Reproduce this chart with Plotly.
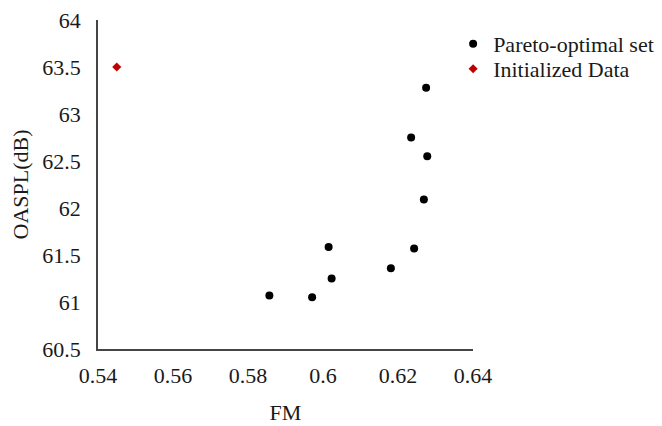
import plotly.graph_objects as go

# Pareto-optimal designs (figure of merit vs. overall sound pressure level)
pareto_fm = [0.6275, 0.6235, 0.6278, 0.6269, 0.6243, 0.6181, 0.6015, 0.6023, 0.5857, 0.5971]
pareto_oaspl = [63.28, 62.75, 62.55, 62.09, 61.57, 61.36, 61.585, 61.25, 61.07, 61.05]

# Baseline design
init_fm = [0.545]
init_oaspl = [63.5]

x_ticks = [0.54, 0.56, 0.58, 0.6, 0.62, 0.64]
x_tick_text = ["0.54", "0.56", "0.58", "0.6", "0.62", "0.64"]
y_ticks = [60.5, 61, 61.5, 62, 62.5, 63, 63.5, 64]
y_tick_text = ["60.5", "61", "61.5", "62", "62.5", "63", "63.5", "64"]

font_family = "Liberation Serif, Times New Roman, serif"
text_color = "#1a1a1a"
axis_color = "#454545"

fig = go.Figure()
fig.add_trace(go.Scatter(
    x=pareto_fm, y=pareto_oaspl, mode="markers", name="Pareto-optimal set",
    marker=dict(symbol="circle", size=8, color="black"),
    legend="legend",
))
fig.add_trace(go.Scatter(
    x=init_fm, y=init_oaspl, mode="markers", name="Initialized Data",
    marker=dict(symbol="diamond", size=7, color="#C00000"),
    legend="legend2",
))

legend_style = dict(xanchor="left", yanchor="middle",
                    font=dict(size=22, color=text_color),
                    bgcolor="rgba(0,0,0,0)", itemsizing="trace")

fig.update_layout(
    width=662, height=426,
    margin=dict(l=98, r=189, t=20, b=77, autoexpand=False),
    paper_bgcolor="white", plot_bgcolor="white",
    font=dict(family=font_family, size=22, color=text_color),
    showlegend=True,
    legend=dict(x=0.947, y=0.927, **legend_style),
    legend2=dict(x=0.947, y=0.851, **legend_style),
)
fig.update_xaxes(
    range=[0.54, 0.64], tickvals=x_ticks, ticktext=x_tick_text,
    showgrid=False, zeroline=False, showline=True, linecolor=axis_color, linewidth=1.6,
    ticks="", ticklen=0, ticklabelstandoff=6, automargin=False,
    title=dict(text="FM", font=dict(size=22), standoff=17),
)
fig.update_yaxes(
    range=[60.5, 64], tickvals=y_ticks, ticktext=y_tick_text,
    showgrid=False, zeroline=False, showline=True, linecolor=axis_color, linewidth=1.6,
    ticks="", ticklen=0, ticklabelstandoff=11, automargin=False,
    title=dict(text="OASPL(dB)", font=dict(size=22), standoff=8),
)

fig.write_html("out.html")
